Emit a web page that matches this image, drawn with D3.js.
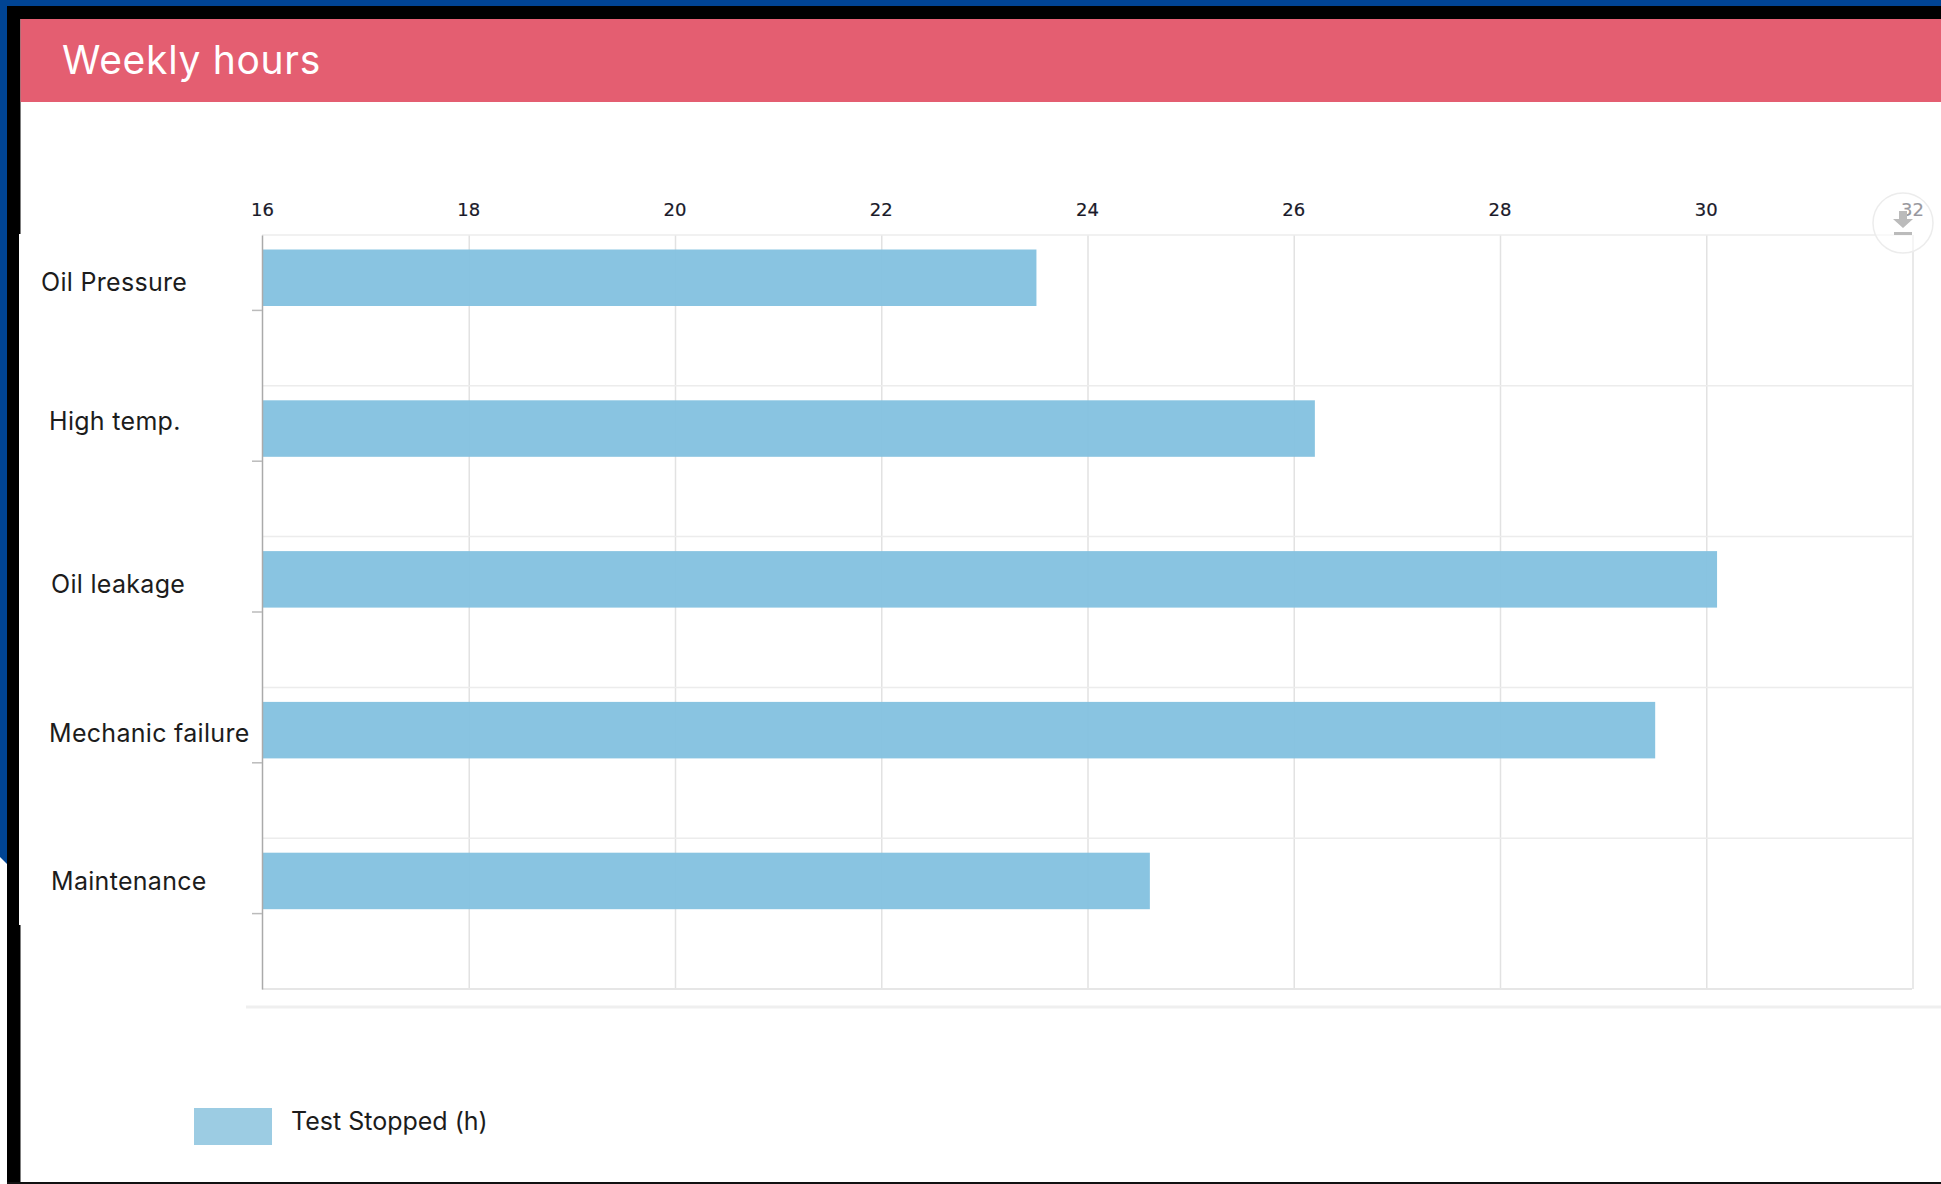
<!DOCTYPE html>
<meta charset="utf-8">
<style>

body {
  margin: 0;
  background: #fff;
}

svg {
  display: block;
}

.label {
  font: 25px Inter, sans-serif;
  fill: #1c1c1c;
}

.xaxis text {
  font: 18px "DejaVu Sans", sans-serif;
  fill: #1a1a2a;
  stroke: #1a1a2a;
  stroke-width: 0.2px;
}

</style>
<svg width="1941" height="1184"></svg>
<script src="https://d3js.org/d3.v7.min.js"></script>
<script>

const categories = ['Oil Pressure', 'High temp.', 'Oil leakage', 'Mechanic failure', 'Maintenance'];
const hours = [23.5, 26.2, 30.1, 29.5, 24.6];
const xTicks = [16, 18, 20, 22, 24, 26, 28, 30, 32];
const title = 'Weekly hours';
const seriesName = 'Test Stopped (h)';

const svg = d3.select('svg');
const width = +svg.attr('width');
const height = +svg.attr('height');
const plot = {left: 262, right: 1912, top: 235, bottom: 989};

// the frame around the screenshot
svg.append('rect').attr('width', 7).attr('height', 864).attr('fill', '#004494');
svg.append('rect').attr('width', width).attr('height', 6).attr('fill', '#004494');
svg.append('rect').attr('x', 7).attr('y', 6).attr('width', width).attr('height', 13).attr('fill', '#000');
svg.append('rect').attr('x', 7).attr('y', 6).attr('width', 13.5).attr('height', height).attr('fill', '#000');
svg.append('rect').attr('x', 7).attr('y', 1182).attr('width', width).attr('height', 2).attr('fill', '#111');
svg.append('path').attr('d', 'M0,857L7,864L0,864Z').attr('fill', '#fff');
// pasted white panel behind the labels
svg.append('rect').attr('x', 19).attr('y', 234).attr('width', 30).attr('height', 691).attr('fill', '#fff');

// header
svg.append('rect').attr('x', 20.5).attr('y', 19).attr('width', width - 20).attr('height', 83).attr('fill', '#e45e71');
svg.append('text').attr('x', 62).attr('y', 74)
    .style('font', '39px Inter, sans-serif')
    .style('letter-spacing', '0.7px')
    .attr('fill', '#fff')
    .text(title);

let x = d3.scaleLinear().domain([16, 32]).range([plot.left, plot.right]);
let y = d3.scaleBand().domain(categories).range([plot.top, plot.bottom]);

// grid
let grid = svg.append('g');
grid.selectAll('.v').data(xTicks.slice(1)).enter().append('line')
    .attr('x1', d => x(d) + 1).attr('x2', d => x(d) + 1)
    .attr('y1', plot.top).attr('y2', plot.bottom)
    .attr('stroke', '#e2e2e2').attr('stroke-width', 1.5);
grid.selectAll('.h').data(categories).enter().append('line')
    .attr('x1', plot.left).attr('x2', plot.right)
    .attr('y1', d => y(d)).attr('y2', d => y(d))
    .attr('stroke', '#ececec').attr('stroke-width', 1.5);
grid.append('line')
    .attr('x1', plot.left).attr('x2', plot.right)
    .attr('y1', plot.bottom).attr('y2', plot.bottom)
    .attr('stroke', '#e6e6e6').attr('stroke-width', 2);

// bars
svg.selectAll('.bar').data(categories).enter().append('rect')
    .attr('class', 'bar')
    .attr('x', plot.left)
    .attr('y', d => y(d) + 14.5)
    .attr('width', (d, i) => x(hours[i]) - plot.left + 1)
    .attr('height', 56.5)
    .attr('fill', '#82c0df')
    .attr('fill-opacity', 0.94);

// top axis, only the labels show
let xAxis = svg.append('g').attr('class', 'xaxis')
    .attr('transform', 'translate(0,' + plot.top + ')')
    .call(d3.axisTop(x).tickValues(xTicks).tickSize(0).tickPadding(19));
xAxis.select('.domain').remove();

// left axis, labels are placed by hand as in the original
const labelOffset = [[-221, -19], [-213, -31], [-211, -19], [-213, -21], [-211, -24]];
let yAxis = svg.append('g')
    .attr('transform', 'translate(' + plot.left + ',0)')
    .call(d3.axisLeft(y).tickSize(10).tickSizeOuter(0));
yAxis.select('.domain').attr('stroke', '#aaa').attr('stroke-width', 1.5);
yAxis.selectAll('.tick line').attr('stroke', '#bbb').attr('stroke-width', 1.5);
yAxis.selectAll('.tick text')
    .attr('class', 'label')
    .style('letter-spacing', '0.3px')
    .attr('text-anchor', 'start')
    .attr('x', (d, i) => labelOffset[i][0])
    .attr('dy', 0)
    .attr('y', (d, i) => labelOffset[i][1]);

// rule under the chart
svg.append('line')
    .attr('x1', 246).attr('x2', width)
    .attr('y1', 1007).attr('y2', 1007)
    .attr('stroke', '#efefef').attr('stroke-width', 3);

// legend
svg.append('rect').attr('x', 194).attr('y', 1108).attr('width', 78).attr('height', 37).attr('fill', '#9ccce3');
svg.append('text').attr('class', 'label').attr('x', 291).attr('y', 1130).text(seriesName);

// download button
let btn = svg.append('g').attr('transform', 'translate(1903,223)');
btn.append('circle').attr('r', 30).attr('fill', '#fff').attr('fill-opacity', 0.55)
    .attr('stroke', '#ececec').attr('stroke-width', 1.5);
btn.append('path').attr('d', 'M-4,-12H4V-4H10L0,5L-10,-4H-4Z').attr('fill', '#bbb');
btn.append('rect').attr('x', -9).attr('y', 9).attr('width', 18).attr('height', 3).attr('fill', '#bbb');

</script>
